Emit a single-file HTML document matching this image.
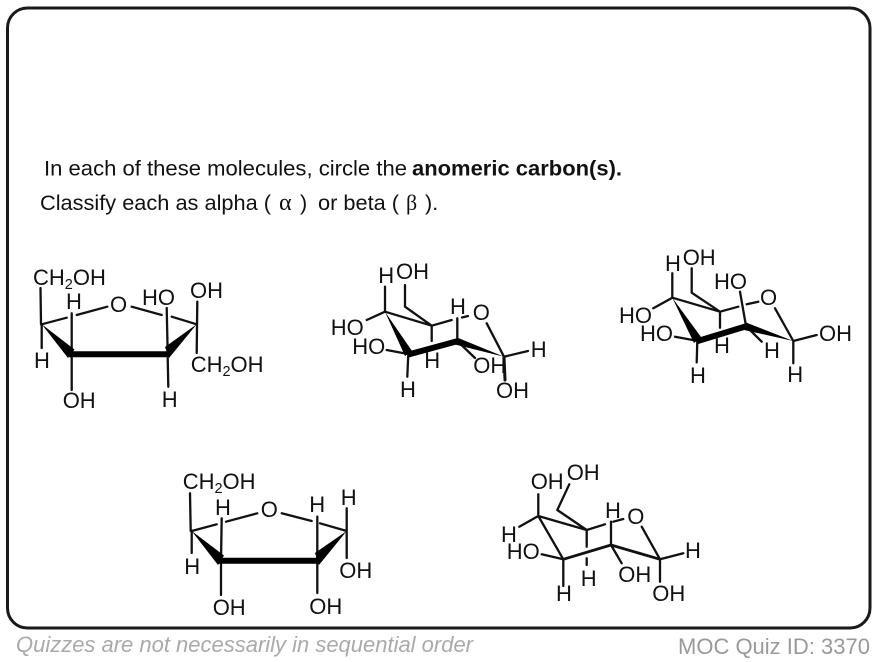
<!DOCTYPE html>
<html><head><meta charset="utf-8"><style>
html,body{margin:0;padding:0;background:#fff}
svg{display:block}
text{font-family:"Liberation Sans",sans-serif;fill:#111}
.m text{font-size:22px}
.b{stroke:#111;stroke-width:2.3;fill:none;stroke-linecap:round;stroke-linejoin:round}
.k{stroke:#000;stroke-width:6;fill:none}
.w{fill:#000;stroke:none}
tspan.s{font-size:14.5px}
</style></head><body>
<svg width="876" height="662" viewBox="0 0 876 662" xmlns="http://www.w3.org/2000/svg">
<rect x="7.5" y="8" width="862.5" height="620" rx="20" fill="#fff" stroke="#1a1a1a" stroke-width="3"/>
<text x="44" y="175.5" font-size="21.6" textLength="363" lengthAdjust="spacingAndGlyphs">In each of these molecules, circle the</text>
<text x="412" y="175.5" font-size="21.6" font-weight="bold" textLength="210" lengthAdjust="spacingAndGlyphs">anomeric carbon(s).</text>
<text x="40" y="210" font-size="21.6" textLength="231" lengthAdjust="spacingAndGlyphs">Classify each as alpha (</text>
<text x="279" y="210" font-size="24" style="font-family:'Liberation Serif',serif">α</text>
<text x="300" y="210" font-size="21.6">)</text>
<text x="318" y="210" font-size="21.6" textLength="81" lengthAdjust="spacingAndGlyphs">or beta (</text>
<text x="406" y="210" font-size="22" style="font-family:'Liberation Serif',serif">β</text>
<text x="425" y="210" font-size="21.6">).</text>
<text x="16" y="652" font-size="22" font-style="italic" style="fill:#aaa" textLength="457" lengthAdjust="spacingAndGlyphs">Quizzes are not necessarily in sequential order</text>
<text x="678" y="654" font-size="22" style="fill:#999">MOC Quiz ID: 3370</text>

<g class="m">
<!-- Molecule 1 -->
<path class="b" d="M40.5 288L41 324.3M41.7 324.3V348M41.7 324.3L66.7 317.7M76.7 315L107.3 306.7M71.7 313.3V354.3M71.7 354V390M131.7 306.7L161.7 315M166.7 308L167.7 354M171.7 316.7L196.7 324.3M197.3 301.7L196.7 353M167.7 358L168.3 386.7"/>
<path class="k" d="M69 354.3H170"/>
<path class="w" d="M41.7 324.3L74.5 349.5L68 358ZM196.7 324.3L165 347L169 358Z"/>
<text x="33" y="285">CH<tspan class="s" dy="4">2</tspan><tspan dy="-4">OH</tspan></text>
<text x="66" y="309">H</text><text x="110" y="312">O</text><text x="142" y="305">HO</text><text x="190" y="298">OH</text>
<text x="190.7" y="372">CH<tspan class="s" dy="4">2</tspan><tspan dy="-4">OH</tspan></text>
<text x="34" y="368">H</text><text x="62.7" y="408">OH</text><text x="161.7" y="407">H</text>

<!-- Molecule 2 -->
<path class="b" d="M385 286.7V311.7M366.7 320L385 311.7M405 285V306.7L431.7 325.7M385 311.7L431.7 325.7M431.7 325.7L451.7 320M462 317.5L468 316M431.7 325.7V341M486.7 323.3L504 356.7M504 356.7L528 351M457.3 318.3V341M457.3 341L475 358M386.7 350L409.3 354.3M408.3 354L407.3 376.7"/>
<path class="b" style="stroke-width:3" d="M504 356.7L505 380"/>
<path class="k" d="M408 354.6L458 341"/>
<path class="w" d="M385 311.7L412 351L405 356ZM457 337.5L504 356.7L455 344.5Z"/>
<text x="378.3" y="283">H</text><text x="396" y="279">OH</text><text x="330.7" y="335">HO</text><text x="352.3" y="354">HO</text>
<text x="450" y="314">H</text><text x="472.7" y="320">O</text><text x="530.7" y="357">H</text><text x="473.3" y="373">OH</text>
<text x="424.3" y="368">H</text><text x="400" y="397">H</text><text x="496" y="398">OH</text>

<!-- Molecule 3 -->
<path class="b" d="M672.3 273.3V297.7M653.3 308.3L672.3 297.7M691.7 268.3V292.7L720 311.7M672.3 297.7L720 311.7M720 311.7L738.3 306.7M746.7 304.3L758.3 301.7M720 311.7V327.7M740 291.7L746 326M775 308.3L793.3 341M793.3 341L816.7 335M793.3 341V363.3M746 326L761.7 341.7M675 336.7L698.3 341M697.3 341L696.7 362.3"/>
<path class="k" d="M697 341.3L747 326"/>
<path class="w" d="M672.3 297.7L701 337L694 343ZM746 322.5L793.3 341L744 330Z"/>
<text x="665" y="271">H</text><text x="682.7" y="265">OH</text><text x="714" y="289">HO</text><text x="760" y="305">O</text>
<text x="619" y="323">HO</text><text x="640" y="341">HO</text><text x="819" y="341">OH</text>
<text x="714" y="353">H</text><text x="764" y="358">H</text><text x="690" y="383">H</text><text x="787.3" y="382">H</text>

<!-- Molecule 4 -->
<path class="b" d="M190 493.3L190.7 531M191.7 531V553M191.7 531L216.7 524.3M226 521.7L257.3 513.3M221.7 518.3L221 560.7M221 560.7V595M281.7 513.3L311.7 521M317.3 516.7V560.7M320 523.3L346.7 531M346.7 508.3V531M346.7 531V558M317.3 560.7V593"/>
<path class="k" d="M218 560.7H320"/>
<path class="w" d="M191.7 531L224 555.5L218 565ZM346.7 531L315 553L319 565Z"/>
<text x="182.7" y="489">CH<tspan class="s" dy="4">2</tspan><tspan dy="-4">OH</tspan></text>
<text x="215" y="515">H</text><text x="260.7" y="517">O</text><text x="309.3" y="512">H</text><text x="340.7" y="505">H</text>
<text x="184.3" y="574">H</text><text x="339.3" y="578">OH</text><text x="212.7" y="615">OH</text><text x="309.3" y="614">OH</text>

<!-- Molecule 5 -->
<path class="b" d="M538.3 494.3V516M519.3 526.7L538.3 516M569.3 484.3L557.3 510L586.7 530M538.3 516L586.7 530M538.3 516L563.3 559.3M586.7 530L605 524.3M613.3 521.7L623.3 519M586.7 530V546.7M586.7 558.3V565M611 521.7V545M611 545L621.7 563.3M641.7 526.7L660 559.3M660 559.3L683.3 553.3M660 559.3V581.7M541.7 554.3L563.3 559.3M563.3 559.3V586"/>
<path class="b" style="stroke-width:2.8" d="M563.3 559.3L611 545L660 559.3"/>
<text x="530.7" y="489">OH</text><text x="566.7" y="480">OH</text><text x="605" y="518">H</text><text x="627.3" y="524">O</text>
<text x="501" y="542">H</text><text x="506.7" y="559">HO</text><text x="685" y="558">H</text><text x="580.7" y="586">H</text>
<text x="618.3" y="582">OH</text><text x="556" y="601">H</text><text x="652.3" y="601">OH</text>
</g>
</svg>
</body></html>
